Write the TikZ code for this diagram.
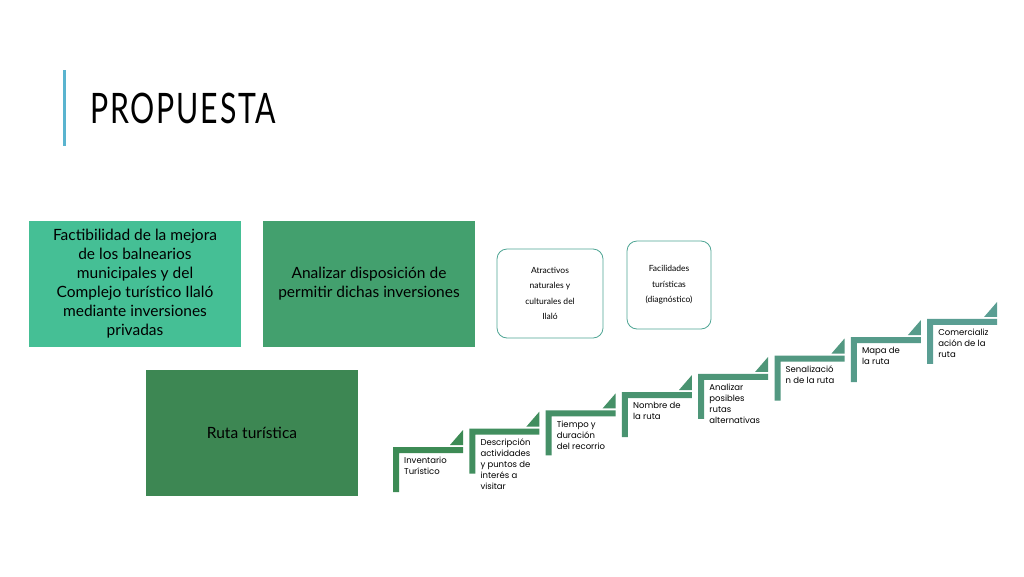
\documentclass[tikz,border=0pt]{standalone}
\usepackage{fontspec}
\setmainfont{Lato}
\newfontfamily\stepfont{Poppins}
\usetikzlibrary{positioning}
\definecolor{boxA}{HTML}{45BF95}
\definecolor{boxB}{HTML}{43A06E}
\definecolor{boxC}{HTML}{3D8753}
\definecolor{stepA}{HTML}{3D8B55}
\definecolor{stepB}{HTML}{5A9E93}
\definecolor{rimcol}{HTML}{4FA594}
\definecolor{barcol}{HTML}{5AB4CF}
\tikzset{
  bigbox/.style={rectangle,minimum width=212pt,minimum height=126pt,align=center,inner sep=0pt,font=\fontsize{15.5}{19}\selectfont},
  roundbox/.style={rectangle,rounded corners=10pt,draw=rimcol,line width=0.8pt,fill=white,align=center,inner sep=0pt,font=\fontsize{8.5}{15.5}\selectfont},
  steptext/.style={anchor=north west,align=left,inner sep=0pt,font=\stepfont\fontsize{8.5}{11}\selectfont}
}
\begin{document}
\begin{tikzpicture}[x=1pt,y=-1pt]
  \useasboundingbox (0,0) rectangle (1024,576);
  \fill[white] (0,0) rectangle (1024,576);
  % title
  \fill[barcol] (63,70) rectangle (66,146);
  \node[anchor=west,inner sep=0pt,xscale=0.72,font=\fontsize{42}{42}\selectfont] (title) at (90,108) {\addfontfeatures{LetterSpace=6}PROPUESTA};
  % big boxes
  \node[bigbox,fill=boxA] (factib) at (135,284) {Factibilidad de la mejora\\de los balnearios\\municipales y del\\Complejo turístico Ilaló\\mediante inversiones\\privadas};
  \node[bigbox,fill=boxB] (analizar) at (369,284) {Analizar disposición de\\permitir dichas inversiones};
  \node[bigbox,fill=boxC] (ruta) at (252,433) {Ruta turística};
  % rounded boxes
  \node[roundbox,minimum width=106pt,minimum height=89pt] (atract) at (550,293.5) {Atractivos\\naturales y\\culturales del\\Ilaló};
  \node[roundbox,minimum width=84pt,minimum height=88pt] (facil) at (669,285) {Facilidades\\turísticas\\(diagnóstico)};
  % steps
  \foreach \i/\lbl in {1/{Inventario\\Turístico},2/{Descripción\\actividades\\y puntos de\\interés a\\visitar},3/{Tiempo y\\duración\\del recorrio},4/{Nombre de\\la ruta},5/{Analizar\\posibles\\rutas\\alternativas},6/{Senalizació\\n de la ruta},7/{Mapa de\\la ruta},8/{Comercializ\\ación de la\\ruta}} {
    \pgfmathsetmacro{\sx}{393+76.3*(\i-1)}
    \pgfmathsetmacro{\sy}{447-18.3*(\i-1)}
    \pgfmathsetmacro{\mix}{100-(\i-1)*100/7}
    \colorlet{stepcol}{stepA!\mix!stepB}
    \fill[stepcol] (\sx,\sy) -- ++(70,0) -- ++(0,6) -- ++(-64,0) -- ++(0,39) -- ++(-6,0) -- cycle;
    \fill[stepcol] (\sx+57,\sy-2) -- ++(13,0) -- ++(0,-15) -- cycle;
    \node[steptext] (step\i) at (\sx+11,\sy+10) {\lbl};
  }
\end{tikzpicture}
\end{document}
